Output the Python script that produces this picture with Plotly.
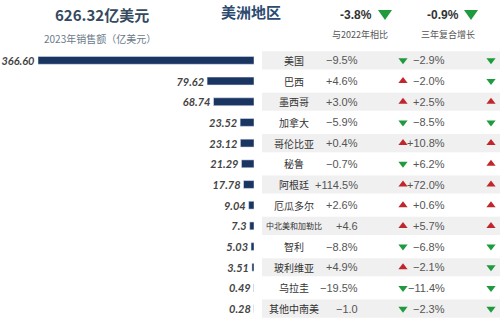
import plotly.graph_objects as go

countries = ["美国", "巴西", "墨西哥", "加拿大", "哥伦比亚", "秘鲁", "阿根廷", "厄瓜多尔",
             "中北美和加勒比", "智利", "玻利维亚", "乌拉圭", "其他中南美"]
sales = [366.60, 79.62, 68.74, 23.52, 23.12, 21.29, 17.78, 9.04, 7.3, 5.03, 3.51, 0.49, 0.28]
sales_labels = ["366.60", "79.62", "68.74", "23.52", "23.12", "21.29", "17.78", "9.04", "7.3",
                "5.03", "3.51", "0.49", "0.28"]
yoy_labels = ["−9.5%", "+4.6%", "+3.0%", "−5.9%", "+0.4%", "−0.7%", "+114.5%", "+2.6%", "+4.6",
              "−8.8%", "+4.9%", "−19.5%", "−1.0"]
yoy_up = [False, True, True, False, True, False, True, True, True, False, True, False, False]
cagr_labels = ["−2.9%", "−2.0%", "+2.5%", "−8.5%", "+10.8%", "+6.2%", "+72.0%", "+0.6%", "+5.7%",
               "−6.8%", "−2.1%", "−11.4%", "−2.3%"]
cagr_up = [False, False, True, False, True, True, True, True, True, False, False, False, False]
total_label = "626.32亿美元"
total_yoy = "-3.8%"
total_cagr = "-0.9%"
total_up = [False, False]

W, H = 500, 322
MT, MB = 50, 3
PH = H - MT - MB
RED = "#c0272d"
GREEN = "#1f9a3c"
NAVY = "#1b3563"

idx = list(range(len(countries)))
fig = go.Figure()

fig.add_trace(go.Bar(
    x=sales, y=idx, orientation="h", marker_color=NAVY, width=0.38,
    text=sales_labels, textposition="outside", cliponaxis=False, constraintext="none",
    textfont=dict(family="Lato", size=11, color="#444444", weight="bold", style="italic"),
    xaxis="x", yaxis="y", hoverinfo="skip"))

def tri(xs, ys, ups, size):
    fig.add_trace(go.Scatter(
        x=xs, y=ys, mode="markers", xaxis="x2", yaxis="y",
        marker=dict(symbol=["triangle-up" if u else "triangle-down" for u in ups],
                    size=size, color=[RED if u else GREEN for u in ups], line=dict(width=0)),
        hoverinfo="skip", cliponaxis=False))

tri([403] * len(idx), idx, yoy_up, 8)
tri([491] * len(idx), idx, cagr_up, 8)

def py(y):
    return (H - MB - y) / PH

shapes = []
for i in idx:
    if i % 2 == 0:
        shapes.append(dict(type="rect", xref="paper", yref="y", x0=262 / W, x1=1,
                           y0=i - 0.44, y1=i + 0.44, fillcolor="#f0f0f0", line_width=0, layer="below"))

# header triangles (pixel-placed decoration)
for cx, up in zip((385, 471), total_up):
    top, bot = (10, 20) if not up else (20, 10)
    x0, x1 = (cx - 7) / W, (cx + 7) / W
    if up:
        path = f"M{x0},{py(20)} L{x1},{py(20)} L{cx / W},{py(10)} Z"
    else:
        path = f"M{x0},{py(10)} L{x1},{py(10)} L{cx / W},{py(20)} Z"
    shapes.append(dict(type="path", xref="paper", yref="paper", path=path,
                       fillcolor=RED if up else GREEN, line_width=0))

ann = []
for i in idx:
    name = countries[i]
    ann.append(dict(x=294 / W, y=i, xref="paper", yref="y", text=name, showarrow=False,
                    font=dict(family="Noto Sans CJK SC", size=8 if len(name) > 5 else 10, color="#333333")))
    ann.append(dict(x=360 / W, y=i, xref="paper", yref="y", text=yoy_labels[i], showarrow=False,
                    font=dict(family="Liberation Sans", size=11, color="#555555")))
    ann.append(dict(x=447 / W, y=i, xref="paper", yref="y", text=cagr_labels[i], showarrow=False,
                    font=dict(family="Liberation Sans", size=11, color="#555555")))

def pa(x, y, text, size, color, weight="normal", family="Noto Sans CJK SC"):
    ann.append(dict(x=x / W, y=py(y), xref="paper", yref="paper", text=text, showarrow=False,
                    xanchor="center", yanchor="middle",
                    font=dict(family=family, size=size, color=color, weight=weight)))

pa(102, 15, total_label, 15, "#34495e", "bold")
pa(100, 38, "2023年销售额（亿美元）", 10, "#6b7a8a")
pa(251, 11, "美洲地区", 15, "#2b4a6f", "bold")
pa(356, 15, total_yoy, 12, "#333333", "bold", "Liberation Sans")
pa(443, 15, total_cagr, 12, "#333333", "bold", "Liberation Sans")
pa(360, 34, "与2022年相比", 9, "#555555")
pa(448, 34, "三年复合增长", 9, "#555555")

R = 366.6 * 254 / 216
fig.update_layout(
    width=W, height=H, margin=dict(l=0, r=0, t=MT, b=MB),
    paper_bgcolor="white", plot_bgcolor="rgba(0,0,0,0)", showlegend=False,
    xaxis=dict(domain=[0, 254 / W], range=[R, 0], visible=False, fixedrange=True),
    xaxis2=dict(domain=[0, 1], range=[0, W], visible=False, anchor="y"),
    yaxis=dict(range=[12.5, -0.5], visible=False),
    shapes=shapes, annotations=ann,
)
fig.write_html("out.html")
